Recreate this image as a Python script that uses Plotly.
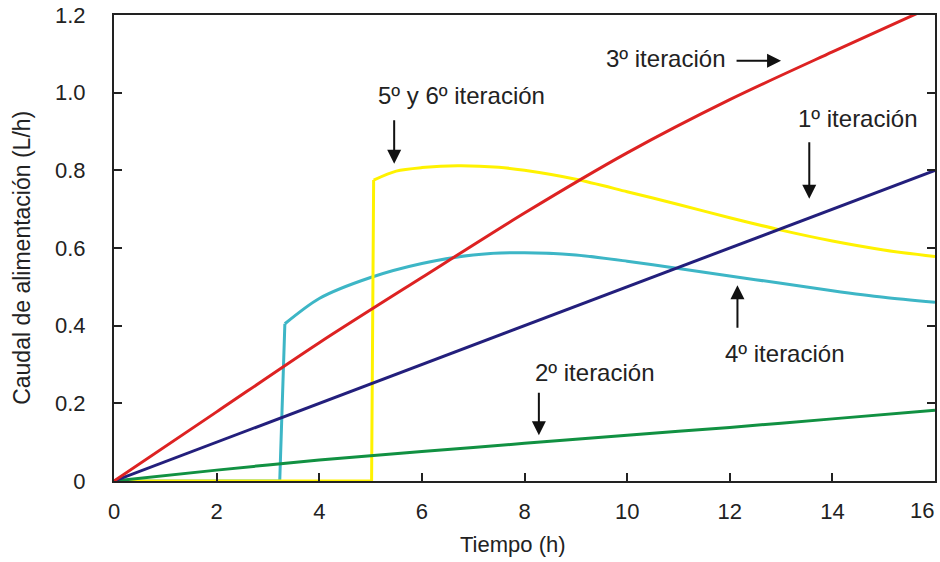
import plotly.graph_objects as go

# Tiempo (h) y caudal de alimentación (L/h) por iteración
t_it1 = [0, 16]
q_it1 = [0, 0.80]

t_it2 = [0, 2, 4, 6, 8, 10, 12, 14, 16]
q_it2 = [0, 0.028, 0.054, 0.076, 0.097, 0.118, 0.138, 0.160, 0.182]

t_it3 = [0, 2, 4, 6, 8, 10, 12, 14, 16]
q_it3 = [0, 0.178, 0.356, 0.524, 0.690, 0.845, 0.982, 1.105, 1.225]

# 4º iteración: sin alimentación hasta el salto, luego curva
t_it4_jump = [0, 3.23, 3.33]
q_it4_jump = [0, 0, 0.405]
t_it4 = [3.33, 4, 5, 6, 7, 8, 9, 10, 11, 12, 13, 14, 15, 16]
q_it4 = [0.405, 0.470, 0.524, 0.560, 0.582, 0.588, 0.582, 0.566,
         0.547, 0.528, 0.509, 0.490, 0.473, 0.460]

# 5º y 6º iteración
t_it56_jump = [0, 5.02, 5.06]
q_it56_jump = [0, 0, 0.775]
t_it56 = [5.06, 5.5, 6, 6.7, 7.5, 8, 9, 10, 11, 12, 13, 14, 15, 16]
q_it56 = [0.775, 0.798, 0.807, 0.812, 0.808, 0.800, 0.777, 0.745,
          0.712, 0.678, 0.646, 0.618, 0.595, 0.578]

x_ticks = [0, 2, 4, 6, 8, 10, 12, 14, 16]
x_tick_labels = ["0", "2", "4", "6", "8", "10", "12", "14", "16"]
y_ticks = [0, 0.2, 0.4, 0.6, 0.8, 1.0, 1.2]
y_tick_labels = ["0", "0.2", "0.4", "0.6", "0.8", "1.0", "1.2"]

FONT = "Liberation Sans, Arial, Helvetica, sans-serif"
INK = "#222222"

C_IT1 = "#231f7c"
C_IT2 = "#119142"
C_IT3 = "#dd2222"
C_IT4 = "#3db6c6"
C_IT56 = "#fff200"

fig = go.Figure()


def line(xs, ys, color, smooth=False):
    style = dict(color=color, width=3)
    if smooth:
        style.update(shape="spline", smoothing=0.8)
    fig.add_trace(go.Scatter(x=xs, y=ys, mode="lines", line=style,
                             showlegend=False, hoverinfo="x+y"))


line(t_it4_jump, q_it4_jump, C_IT4)
line(t_it4, q_it4, C_IT4, smooth=True)
line(t_it56_jump, q_it56_jump, C_IT56)
line(t_it56, q_it56, C_IT56, smooth=True)
line(t_it2, q_it2, C_IT2, smooth=True)
line(t_it1, q_it1, C_IT1)
line(t_it3, q_it3, C_IT3, smooth=True)

# Etiquetas de cada iteración
labels = [
    ("3º iteración", 10.75, 1.087),
    ("5º y 6º iteración", 6.77, 0.992),
    ("1º iteración", 14.5, 0.933),
    ("4º iteración", 13.08, 0.329),
    ("2º iteración", 9.37, 0.280),
]
for text, x, y in labels:
    fig.add_annotation(x=x, y=y, xref="x", yref="y", text=text, showarrow=False,
                       font=dict(family=FONT, size=24, color=INK))

# Flechas que señalan cada curva
arrows = [
    (13.0, 1.082, -46, 0),
    (5.46, 0.817, 0, -45),
    (13.55, 0.727, 0, -58),
    (12.15, 0.504, 0, 44),
    (8.28, 0.118, 0, -44),
]
for x, y, ax, ay in arrows:
    fig.add_annotation(x=x, y=y, xref="x", yref="y", text="", showarrow=True,
                       ax=ax, ay=ay, arrowhead=2, arrowsize=1.4, arrowwidth=2,
                       arrowcolor="#111111", standoff=0)

# La última etiqueta del eje x queda pegada al borde derecho
fig.add_annotation(x=x_ticks[-1], y=0, xref="x", yref="paper",
                   text=x_tick_labels[-1], showarrow=False, xanchor="right",
                   yanchor="top", xshift=1, yshift=-15,
                   font=dict(family=FONT, size=22, color=INK))

# Títulos de los ejes
fig.add_annotation(x=0.486, y=-0.137, xref="paper", yref="paper",
                   xanchor="center", yanchor="middle",
                   text="Tiempo (h)", showarrow=False,
                   font=dict(family=FONT, size=22, color=INK))
fig.add_annotation(x=-0.112, y=0.479, xref="paper", yref="paper",
                   xanchor="center", yanchor="middle",
                   text="Caudal de alimentación (L/h)", showarrow=False,
                   textangle=-90, font=dict(family=FONT, size=23, color=INK))

fig.update_xaxes(
    range=[0, 16], tickvals=x_ticks, ticktext=x_tick_labels[:-1] + [""],
    ticks="inside", ticklen=8, tickwidth=2,
    tickcolor=INK, showline=True, linewidth=2, linecolor=INK,
    mirror=True, showgrid=False, zeroline=False,
    tickfont=dict(family=FONT, size=22, color=INK),
    ticklabelstandoff=10,
)
fig.update_yaxes(
    range=[0, 1.2], tickvals=y_ticks, ticktext=y_tick_labels, ticks="inside",
    ticklen=8, tickwidth=2, tickcolor=INK, showline=True, linewidth=2,
    linecolor=INK, mirror="ticks", showgrid=False, zeroline=False,
    tickfont=dict(family=FONT, size=22, color=INK),
    ticklabelstandoff=22,
)

fig.update_layout(
    width=940, height=562,
    margin=dict(l=114, r=3, t=13, b=81),
    paper_bgcolor="white", plot_bgcolor="white",
)

fig.write_html("out.html")
